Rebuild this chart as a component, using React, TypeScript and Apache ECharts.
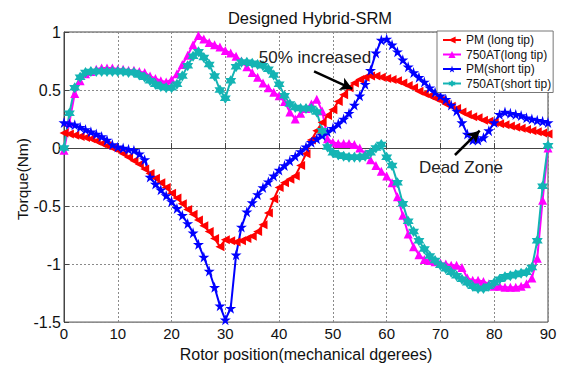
import React, { useEffect, useRef } from "react";
import * as echarts from "echarts";

const rotorAngle = [
  0, 1, 2, 3, 4, 5, 6, 7, 8, 9, 10, 11, 12, 13, 14, 15, 16, 17, 18, 19,
  20, 21, 22, 23, 24, 25, 26, 27, 28, 29, 30, 31, 32, 33, 34, 35, 36, 37, 38, 39,
  40, 41, 42, 43, 44, 45, 46, 47, 48, 49, 50, 51, 52, 53, 54, 55, 56, 57, 58, 59,
  60, 61, 62, 63, 64, 65, 66, 67, 68, 69, 70, 71, 72, 73, 74, 75, 76, 77, 78, 79,
  80, 81, 82, 83, 84, 85, 86, 87, 88, 89, 90,
];

const pmLongTip = [
  0.13, 0.12, 0.11, 0.10, 0.09, 0.08, 0.06, 0.04, 0.02, 0.00,
  -0.02, -0.05, -0.08, -0.11, -0.14, -0.18, -0.22, -0.26, -0.30, -0.34,
  -0.39, -0.43, -0.48, -0.53, -0.57, -0.62, -0.67, -0.72, -0.78, -0.85,
  -0.79, -0.80, -0.81, -0.80, -0.78, -0.76, -0.72, -0.66, -0.56, -0.44,
  -0.34, -0.30, -0.27, -0.24, -0.15, -0.05, 0.07, 0.15, 0.22, 0.28,
  0.33, 0.40, 0.46, 0.52, 0.56, 0.59, 0.61, 0.62, 0.62, 0.61,
  0.60, 0.59, 0.58, 0.56, 0.54, 0.52, 0.49, 0.47, 0.45, 0.43,
  0.41, 0.38, 0.36, 0.34, 0.31, 0.29, 0.27, 0.26, 0.24, 0.23,
  0.22, 0.21, 0.20, 0.19, 0.18, 0.17, 0.16, 0.15, 0.14, 0.13, 0.12,
];

const at750LongTip = [
  -0.02, 0.22, 0.47, 0.58, 0.64, 0.66, 0.68, 0.69, 0.69, 0.69,
  0.68, 0.68, 0.67, 0.67, 0.66, 0.65, 0.62, 0.60, 0.58, 0.57,
  0.59, 0.64, 0.72, 0.80, 0.89, 0.97, 0.94, 0.91, 0.89, 0.87,
  0.84, 0.82, 0.79, 0.75, 0.70, 0.65, 0.61, 0.56, 0.52, 0.48,
  0.45, 0.40, 0.31, 0.25, 0.30, 0.34, 0.38, 0.42, 0.32, 0.08,
  0.05, 0.04, 0.04, 0.04, 0.03, 0.00, -0.05, -0.10, -0.15, -0.20,
  -0.24, -0.30, -0.42, -0.58, -0.74, -0.85, -0.92, -0.96, -0.97, -0.98,
  -0.99, -1.00, -1.01, -1.01, -1.03, -1.12, -1.14, -1.14, -1.15, -1.17,
  -1.19, -1.19, -1.20, -1.20, -1.20, -1.19, -1.17, -1.12, -0.95, -0.45, 0.00,
];

const pmShortTip = [
  0.22, 0.21, 0.20, 0.18, 0.16, 0.14, 0.12, 0.10, 0.07, 0.03,
  0.01, 0.00, -0.01, -0.02, -0.05, -0.10, -0.25, -0.31, -0.36, -0.41,
  -0.46, -0.52, -0.58, -0.65, -0.73, -0.83, -0.94, -1.06, -1.20, -1.36,
  -1.48, -1.38, -0.92, -0.68, -0.55, -0.47, -0.40, -0.34, -0.29, -0.24,
  -0.19, -0.15, -0.11, -0.07, -0.03, 0.01, 0.05, 0.08, 0.11, 0.14,
  0.17, 0.21, 0.25, 0.30, 0.37, 0.45, 0.55, 0.67, 0.82, 0.93,
  0.94, 0.89, 0.83, 0.76, 0.70, 0.65, 0.61, 0.57, 0.52, 0.48,
  0.45, 0.42, 0.37, 0.32, 0.22, 0.12, 0.07, 0.07, 0.09, 0.15,
  0.22, 0.29, 0.31, 0.30, 0.29, 0.28, 0.26, 0.25, 0.24, 0.23, 0.22,
];

const at750ShortTip = [
  0.00, 0.30, 0.52, 0.61, 0.65, 0.66, 0.66, 0.66, 0.66, 0.66,
  0.66, 0.66, 0.65, 0.65, 0.63, 0.61, 0.58, 0.55, 0.53, 0.52,
  0.52, 0.55, 0.62, 0.71, 0.79, 0.83, 0.78, 0.72, 0.62, 0.50,
  0.43, 0.58, 0.70, 0.74, 0.74, 0.73, 0.72, 0.71, 0.68, 0.63,
  0.55, 0.45, 0.38, 0.35, 0.34, 0.34, 0.34, 0.31, 0.15, 0.01,
  -0.04, -0.06, -0.07, -0.08, -0.08, -0.08, -0.07, -0.04, 0.00, 0.03,
  -0.08, -0.15, -0.30, -0.48, -0.63, -0.72, -0.80, -0.87, -0.93, -0.97,
  -1.01, -1.04, -1.07, -1.10, -1.13, -1.16, -1.19, -1.21, -1.21, -1.19,
  -1.16, -1.13, -1.11, -1.10, -1.09, -1.08, -1.07, -1.03, -0.80, -0.33, 0.02,
];

const seriesNames = ["PM (long tip)", "750AT(long tip)", "PM(short tip)", "750AT(short tip)"];
const xTicks = [0, 10, 20, 30, 40, 50, 60, 70, 80, 90];
const yTicks = [-1.5, -1, -0.5, 0, 0.5, 1];

const FONT = "'Liberation Sans', Arial, sans-serif";
const PENTAGRAM = "path://M50,0 L61,35 L98,35 L68,57 L79,91 L50,70 L21,91 L32,57 L2,35 L39,35 Z";
const HEXAGRAM =
  "path://M50,0 L35.57,25 L6.7,25 L21.13,50 L6.7,75 L35.57,75 L50,100 L64.43,75 L93.3,75 L78.87,50 L93.3,25 L64.43,25 Z";

function pairs(vals: number[]) {
  return rotorAngle.map((a, i) => [a, vals[i]]);
}

export default function App() {
  const ref = useRef<HTMLDivElement>(null);
  useEffect(() => {
    if (!ref.current) return;
    const chart = echarts.init(ref.current, undefined, { renderer: "svg" });
    const mk = (name: string, vals: number[], color: string, symbol: string, size: number, rot = 0, extra: any = {}) => ({
      name,
      type: "line",
      data: pairs(vals),
      symbol,
      symbolSize: size,
      symbolRotate: rot,
      showAllSymbol: true,
      lineStyle: { color, width: 2 },
      itemStyle: { color, borderWidth: 0 },
      z: 2,
      ...extra,
    });
    chart.setOption({
      animation: false,
      backgroundColor: "#fff",
      title: {
        text: "Designed Hybrid-SRM",
        left: 305,
        textAlign: "center",
        top: 4,
        textStyle: { fontFamily: FONT, fontSize: 16.5, fontWeight: "normal", color: "#111" },
      },
      legend: {
        orient: "vertical",
        left: 437,
        top: 31,
        backgroundColor: "#fff",
        borderColor: "#777",
        borderWidth: 1,
        borderRadius: 0,
        padding: [3, 2, 3, 5],
        itemWidth: 18,
        itemHeight: 9,
        itemGap: 2.5,
        data: seriesNames,
        textStyle: { fontFamily: FONT, fontSize: 12, color: "#111", lineHeight: 12 },
        z: 10,
      },
      grid: {
        left: 64,
        right: 15,
        top: 32,
        bottom: 38,
        show: true,
        borderColor: "#444",
        borderWidth: 1,
        backgroundColor: "transparent",
      },
      xAxis: {
        type: "value",
        min: 0,
        max: 90,
        interval: 10,
        name: "Rotor position(mechanical dgerees)",
        nameLocation: "middle",
        nameGap: 21,
        nameTextStyle: { fontFamily: FONT, fontSize: 16, color: "#111", lineHeight: 16 },
        axisLine: { lineStyle: { color: "#444" } },
        axisTick: { inside: true, length: 5, lineStyle: { color: "#444" } },
        axisLabel: {
          fontFamily: FONT,
          fontSize: 15,
          lineHeight: 15,
          color: "#111",
          margin: 4,
          formatter: (v: number) => (xTicks.includes(v) ? String(v) : ""),
        },
        splitLine: { show: true, lineStyle: { color: "#8a8a8a", type: [2, 2], width: 1 } },
      },
      yAxis: {
        type: "value",
        min: -1.5,
        max: 1,
        interval: 0.5,
        axisLine: { lineStyle: { color: "#444" } },
        axisTick: { inside: true, length: 5, lineStyle: { color: "#444" } },
        axisLabel: {
          fontFamily: FONT,
          fontSize: 16,
          color: "#111",
          margin: 3,
          formatter: (v: number) => (yTicks.includes(v) ? String(v) : ""),
        },
        splitLine: { show: true, lineStyle: { color: "#8a8a8a", type: [2, 2], width: 1 } },
      },
      series: [
        mk(seriesNames[0], pmLongTip, "#ff0000", "triangle", 9, 90, {
          markLine: {
            silent: true,
            symbol: ["none", "arrow"],
            symbolSize: [10, 12],
            label: { show: false },
            lineStyle: { color: "#000", width: 2.5, type: "solid" },
            data: [
              [{ coord: [46.5, 0.66] }, { coord: [53.6, 0.51] }],
              [{ coord: [72.7, -0.06] }, { coord: [77.3, 0.15] }],
            ],
          },
        }),
        mk(seriesNames[1], at750LongTip, "#ff00ff", "triangle", 9),
        mk(seriesNames[2], pmShortTip, "#0000ff", PENTAGRAM, 11),
        mk(seriesNames[3], at750ShortTip, "#14b4b4", HEXAGRAM, 11),
      ],
      graphic: [
        {
          type: "text",
          x: 22,
          y: 179,
          rotation: Math.PI / 2,
          z: 20,
          style: {
            text: "Torque(Nm)",
            fontFamily: FONT,
            fontSize: 15.5,
            fill: "#111",
            align: "center",
            verticalAlign: "middle",
          },
        },
        {
          type: "text",
          x: 315,
          y: 57,
          z: 20,
          style: {
            text: "50% increased",
            fontFamily: FONT,
            fontSize: 17,
            fill: "#222",
            align: "center",
            verticalAlign: "middle",
          },
        },
        {
          type: "text",
          x: 461,
          y: 167,
          z: 20,
          style: {
            text: "Dead Zone",
            fontFamily: FONT,
            fontSize: 17,
            fill: "#222",
            align: "center",
            verticalAlign: "middle",
          },
        },
      ],
    });
    return () => chart.dispose();
  }, []);
  return <div ref={ref} style={{ width: 563, height: 367, position: "absolute", left: 0, top: 0 }} />;
}
